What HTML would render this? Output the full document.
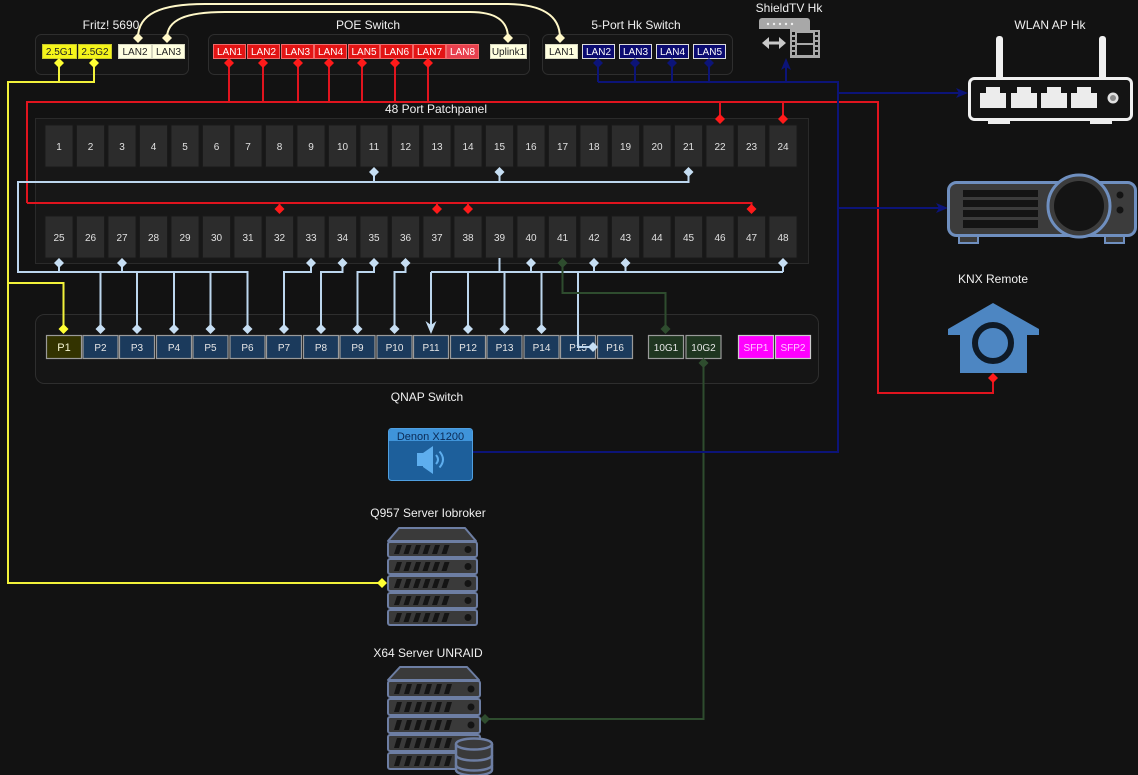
<!DOCTYPE html>
<html><head><meta charset="utf-8"><style>
html,body{margin:0;padding:0;background:#121212;}
svg{display:block;font-family:"Liberation Sans",Arial,sans-serif;}
</style></head><body>
<svg width="1138" height="775" viewBox="0 0 1138 775" xmlns="http://www.w3.org/2000/svg">
<defs>
<rect id="pp" width="28" height="42" fill="#2c2c2c" stroke="#1a1a1a" stroke-width="1"/>
<g id="srvu"><rect x="0" y="0" width="89" height="15" rx="2" fill="#3a3a3a" stroke="#6d7ea3" stroke-width="2"/><path d="M9 3h5l-3 9h-5z M18.5 3h5l-3 9h-5z M28 3h5l-3 9h-5z M37.5 3h5l-3 9h-5z M47 3h5l-3 9h-5z M56.5 3h5l-3 9h-5z" fill="#141414"/><circle cx="80" cy="7.5" r="3.5" fill="#141414"/></g>
<g id="srvx"><rect x="0" y="0" width="92" height="16" rx="2" fill="#3a3a3a" stroke="#6d7ea3" stroke-width="2"/><path d="M9 3h5l-3 10h-5z M19 3h5l-3 10h-5z M29 3h5l-3 10h-5z M39 3h5l-3 10h-5z M49 3h5l-3 10h-5z M59 3h5l-3 10h-5z" fill="#141414"/><circle cx="83" cy="8" r="3.5" fill="#141414"/></g>
</defs>
<rect width="1138" height="775" fill="#121212"/>

<!-- containers -->
<g fill="#151515" stroke="#2e2e2e" stroke-width="1">
<rect x="35.5" y="34.5" width="153" height="40" rx="6"/>
<rect x="208.5" y="34.5" width="321" height="40" rx="6"/>
<rect x="542.5" y="34.5" width="190" height="40" rx="6"/>
<rect x="35.5" y="314.5" width="783" height="69" rx="9"/>
</g>
<rect x="35.5" y="118.5" width="773" height="145" fill="#171717" stroke="#2a2a2a"/>

<!-- labels -->
<g fill="#f0f0f0" font-size="12" text-anchor="middle">
<text x="111" y="29">Fritz! 5690</text>
<text x="368" y="29">POE Switch</text>
<text x="636" y="29">5-Port Hk Switch</text>
<text x="789" y="12">ShieldTV Hk</text>
<text x="1050" y="29">WLAN AP Hk</text>
<text x="436" y="113">48 Port Patchpanel</text>
<text x="993" y="283">KNX Remote</text>
<text x="427" y="401">QNAP Switch</text>
<text x="428" y="517">Q957 Server Iobroker</text>
<text x="428" y="657">X64 Server UNRAID</text>
</g>

<!-- Fritz ports -->
<g stroke-width="1">
<rect x="42.5" y="44.5" width="34" height="14" fill="#f5f51a" stroke="#c9c92a"/>
<rect x="78.5" y="44.5" width="33" height="14" fill="#f5f51a" stroke="#c9c92a"/>
<rect x="118.5" y="44.5" width="33" height="14" fill="#ffffe0" stroke="#d8d8c0"/>
<rect x="152.5" y="44.5" width="32" height="14" fill="#ffffe0" stroke="#d8d8c0"/>
</g>
<g font-size="10" text-anchor="middle" fill="#222">
<text x="59.5" y="55">2.5G1</text>
<text x="95" y="55">2.5G2</text>
<text x="135" y="55">LAN2</text>
<text x="168.5" y="55">LAN3</text>
</g>

<!-- POE ports -->
<g fill="#e31414" stroke="#f06a6a" stroke-width="1">
<rect x="213.5" y="44.5" width="32" height="14"/>
<rect x="247.5" y="44.5" width="32" height="14"/>
<rect x="281.5" y="44.5" width="32" height="14"/>
<rect x="314.5" y="44.5" width="32" height="14"/>
<rect x="348.5" y="44.5" width="31" height="14"/>
<rect x="380.5" y="44.5" width="32" height="14"/>
<rect x="413.5" y="44.5" width="32" height="14"/>
<rect x="446.5" y="44.5" width="32" height="14" fill="#e8404e"/>
</g>
<rect x="490.5" y="44.5" width="36" height="14" fill="#ffffe0" stroke="#d8d8c0"/>
<g font-size="10" text-anchor="middle" fill="#fff">
<text x="229.5" y="55">LAN1</text>
<text x="263.5" y="55">LAN2</text>
<text x="297.5" y="55">LAN3</text>
<text x="330.5" y="55">LAN4</text>
<text x="364" y="55">LAN5</text>
<text x="396.5" y="55">LAN6</text>
<text x="429.5" y="55">LAN7</text>
<text x="462.5" y="55">LAN8</text>
<text x="508.5" y="55" fill="#222">Uplink1</text>
</g>

<!-- 5 port switch -->
<rect x="545.5" y="44.5" width="32" height="14" fill="#ffffe0" stroke="#d8d8c0"/>
<g fill="#0b0b70" stroke="#dddddd" stroke-width="1">
<rect x="582.5" y="44.5" width="32" height="14"/>
<rect x="619.5" y="44.5" width="32" height="14"/>
<rect x="656.5" y="44.5" width="32" height="14"/>
<rect x="693.5" y="44.5" width="32" height="14"/>
</g>
<g font-size="10" text-anchor="middle" fill="#fff">
<text x="561.5" y="55" fill="#222">LAN1</text>
<text x="598.5" y="55">LAN2</text>
<text x="635.5" y="55">LAN3</text>
<text x="672.5" y="55">LAN4</text>
<text x="709.5" y="55">LAN5</text>
</g>

<!-- Patch panel ports -->
<g>
<use href="#pp" x="45" y="125"/><use href="#pp" x="76.5" y="125"/><use href="#pp" x="108" y="125"/><use href="#pp" x="139.5" y="125"/><use href="#pp" x="171" y="125"/><use href="#pp" x="202.5" y="125"/><use href="#pp" x="234" y="125"/><use href="#pp" x="265.5" y="125"/><use href="#pp" x="297" y="125"/><use href="#pp" x="328.5" y="125"/><use href="#pp" x="360" y="125"/><use href="#pp" x="391.5" y="125"/><use href="#pp" x="423" y="125"/><use href="#pp" x="454" y="125"/><use href="#pp" x="485.5" y="125"/><use href="#pp" x="517" y="125"/><use href="#pp" x="548.5" y="125"/><use href="#pp" x="580" y="125"/><use href="#pp" x="611.5" y="125"/><use href="#pp" x="643" y="125"/><use href="#pp" x="674.5" y="125"/><use href="#pp" x="706" y="125"/><use href="#pp" x="737.5" y="125"/><use href="#pp" x="769" y="125"/>
<use href="#pp" x="45" y="216"/><use href="#pp" x="76.5" y="216"/><use href="#pp" x="108" y="216"/><use href="#pp" x="139.5" y="216"/><use href="#pp" x="171" y="216"/><use href="#pp" x="202.5" y="216"/><use href="#pp" x="234" y="216"/><use href="#pp" x="265.5" y="216"/><use href="#pp" x="297" y="216"/><use href="#pp" x="328.5" y="216"/><use href="#pp" x="360" y="216"/><use href="#pp" x="391.5" y="216"/><use href="#pp" x="423" y="216"/><use href="#pp" x="454" y="216"/><use href="#pp" x="485.5" y="216"/><use href="#pp" x="517" y="216"/><use href="#pp" x="548.5" y="216"/><use href="#pp" x="580" y="216"/><use href="#pp" x="611.5" y="216"/><use href="#pp" x="643" y="216"/><use href="#pp" x="674.5" y="216"/><use href="#pp" x="706" y="216"/><use href="#pp" x="737.5" y="216"/><use href="#pp" x="769" y="216"/>
</g>
<g font-size="10" text-anchor="middle" fill="#e0e0e0">
<text x="59" y="150">1</text><text x="90.5" y="150">2</text><text x="122" y="150">3</text><text x="153.5" y="150">4</text><text x="185" y="150">5</text><text x="216.5" y="150">6</text><text x="248" y="150">7</text><text x="279.5" y="150">8</text><text x="311" y="150">9</text><text x="342.5" y="150">10</text><text x="374" y="150">11</text><text x="405.5" y="150">12</text><text x="437" y="150">13</text><text x="468" y="150">14</text><text x="499.5" y="150">15</text><text x="531" y="150">16</text><text x="562.5" y="150">17</text><text x="594" y="150">18</text><text x="625.5" y="150">19</text><text x="657" y="150">20</text><text x="688.5" y="150">21</text><text x="720" y="150">22</text><text x="751.5" y="150">23</text><text x="783" y="150">24</text>
<text x="59" y="241">25</text><text x="90.5" y="241">26</text><text x="122" y="241">27</text><text x="153.5" y="241">28</text><text x="185" y="241">29</text><text x="216.5" y="241">30</text><text x="248" y="241">31</text><text x="279.5" y="241">32</text><text x="311" y="241">33</text><text x="342.5" y="241">34</text><text x="374" y="241">35</text><text x="405.5" y="241">36</text><text x="437" y="241">37</text><text x="468" y="241">38</text><text x="499.5" y="241">39</text><text x="531" y="241">40</text><text x="562.5" y="241">41</text><text x="594" y="241">42</text><text x="625.5" y="241">43</text><text x="657" y="241">44</text><text x="688.5" y="241">45</text><text x="720" y="241">46</text><text x="751.5" y="241">47</text><text x="783" y="241">48</text>
</g>

<!-- QNAP ports -->
<g stroke="#9a9a9a" stroke-width="1.2">
<rect x="46.5" y="335.5" width="35" height="23" fill="#333300"/>
<g fill="#1b3a5c">
<rect x="83" y="335.5" width="35" height="23"/><rect x="119.5" y="335.5" width="35" height="23"/><rect x="156.5" y="335.5" width="35" height="23"/><rect x="193" y="335.5" width="35" height="23"/><rect x="230" y="335.5" width="35" height="23"/><rect x="266.5" y="335.5" width="35" height="23"/><rect x="303.5" y="335.5" width="35" height="23"/><rect x="340" y="335.5" width="35" height="23"/><rect x="377" y="335.5" width="35" height="23"/><rect x="413.5" y="335.5" width="35" height="23"/><rect x="450.5" y="335.5" width="35" height="23"/><rect x="487" y="335.5" width="35" height="23"/><rect x="524" y="335.5" width="35" height="23"/><rect x="560.5" y="335.5" width="35" height="23"/><rect x="597.5" y="335.5" width="35" height="23"/>
</g>
<rect x="648.5" y="335.5" width="35" height="23" fill="#1f3620"/>
<rect x="686" y="335.5" width="35" height="23" fill="#1f3620"/>
<rect x="738.5" y="335.5" width="35" height="23" fill="#ff00ff" stroke="#cccccc"/>
<rect x="775.5" y="335.5" width="35" height="23" fill="#ff00ff" stroke="#cccccc"/>
</g>
<g font-size="10" text-anchor="middle" fill="#e6e6e6">
<text x="64" y="351" fill="#f4f4d0" font-size="11">P1</text>
<text x="100.5" y="351">P2</text><text x="137" y="351">P3</text><text x="174" y="351">P4</text><text x="210.5" y="351">P5</text><text x="247.5" y="351">P6</text><text x="284" y="351">P7</text><text x="321" y="351">P8</text><text x="357.5" y="351">P9</text><text x="394.5" y="351">P10</text><text x="431" y="351">P11</text><text x="468" y="351">P12</text><text x="504.5" y="351">P13</text><text x="541.5" y="351">P14</text><text x="578" y="351">P15</text><text x="615" y="351">P16</text>
<text x="666" y="351">10G1</text><text x="703.5" y="351">10G2</text>
<text x="756" y="351" fill="#ffc8ff">SFP1</text><text x="793" y="351" fill="#ffc8ff">SFP2</text>
</g>

<!-- cream curves -->
<g fill="none" stroke="#fff8c8" stroke-width="2">
<path d="M138 38C138 14 160 4 205 4H505C540 4 560 14 560 38"/>
<path d="M167 38C167 20 185 12 225 12H470C495 12 508 20 508 38"/>
</g>
<g fill="#fff8c8">
<path d="M138 33l5 5-5 5-5-5z"/><path d="M167 33l5 5-5 5-5-5z"/><path d="M508 33l5 5-5 5-5-5z"/><path d="M560 33l5 5-5 5-5-5z"/>
</g>

<!-- red -->
<g fill="none" stroke="#e0141e" stroke-width="2">
<path d="M229 63V102 M263 63V102 M298 63V102 M329 63V102 M362 63V102 M395 63V102 M428 63V102 M27 203V102H878V393H993V378 M720 102V119 M783 102V119 M27 203H751.5V209 M279.5 203V209 M437 203V209 M468 203V209"/>
</g>
<g fill="#ff1a1a">
<path d="M229 58l5 5-5 5-5-5z"/><path d="M263 58l5 5-5 5-5-5z"/><path d="M298 58l5 5-5 5-5-5z"/><path d="M329 58l5 5-5 5-5-5z"/><path d="M362 58l5 5-5 5-5-5z"/><path d="M395 58l5 5-5 5-5-5z"/><path d="M428 58l5 5-5 5-5-5z"/>
<path d="M720 114l5 5-5 5-5-5z"/><path d="M783 114l5 5-5 5-5-5z"/>
<path d="M279.5 204l5 5-5 5-5-5z"/><path d="M437 204l5 5-5 5-5-5z"/><path d="M468 204l5 5-5 5-5-5z"/><path d="M751.5 204l5 5-5 5-5-5z"/>
<path d="M993 373l5 5-5 5-5-5z"/>
</g>

<!-- yellow -->
<g fill="none" stroke="#f2f23a" stroke-width="2">
<path d="M59 63V82 M94 63V82H8V583H382 M8 283H63.5V329"/>
</g>
<g fill="#ffff33">
<path d="M59 58l5 5-5 5-5-5z"/><path d="M94 58l5 5-5 5-5-5z"/><path d="M63.5 324l5 5-5 5-5-5z"/><path d="M382 578l5 5-5 5-5-5z"/>
</g>

<!-- light blue -->
<g fill="none" stroke="#bcd6ee" stroke-width="2">
<path d="M374 172V182 M499.5 172V182 M688.5 172V182H18V272H247.5V329 M59 263V272 M122 263V272 M100.5 272V329 M137 272V329 M174 272V329 M210.5 272V329"/>
<path d="M311 263V272H284V329 M342.5 263V272H321V329 M374 263V272H357.5V329 M405.5 263V272H394.5V329"/>
<path d="M431 272H783 M431 272V326 M468 272V329 M504.5 272V329 M541.5 272V329 M578 272V347H593 M499.5 258V272 M531 263V272 M594 263V272 M625.5 263V272 M783 263V272"/>
</g>
<g fill="#c6def3">
<path d="M374 167l5 5-5 5-5-5z"/><path d="M499.5 167l5 5-5 5-5-5z"/><path d="M688.5 167l5 5-5 5-5-5z"/>
<path d="M59 258l5 5-5 5-5-5z"/><path d="M122 258l5 5-5 5-5-5z"/><path d="M311 258l5 5-5 5-5-5z"/><path d="M342.5 258l5 5-5 5-5-5z"/><path d="M374 258l5 5-5 5-5-5z"/><path d="M405.5 258l5 5-5 5-5-5z"/><path d="M531 258l5 5-5 5-5-5z"/><path d="M594 258l5 5-5 5-5-5z"/><path d="M625.5 258l5 5-5 5-5-5z"/><path d="M783 258l5 5-5 5-5-5z"/>
<path d="M100.5 324l5 5-5 5-5-5z"/><path d="M137 324l5 5-5 5-5-5z"/><path d="M174 324l5 5-5 5-5-5z"/><path d="M210.5 324l5 5-5 5-5-5z"/><path d="M247.5 324l5 5-5 5-5-5z"/><path d="M284 324l5 5-5 5-5-5z"/><path d="M321 324l5 5-5 5-5-5z"/><path d="M357.5 324l5 5-5 5-5-5z"/><path d="M394.5 324l5 5-5 5-5-5z"/><path d="M468 324l5 5-5 5-5-5z"/><path d="M504.5 324l5 5-5 5-5-5z"/><path d="M541.5 324l5 5-5 5-5-5z"/>
<path d="M593 342l5 5-5 5-5-5z"/>
<path d="M431 334l-5.5-13 5.5 4 5.5-4z"/>
</g>

<!-- green -->
<g fill="none" stroke="#2e4c2e" stroke-width="2">
<path d="M562.5 263V293H665.5V329 M703.5 363V719H485"/>
</g>
<g fill="#2e4c2e">
<path d="M562.5 258l5 5-5 5-5-5z"/><path d="M665.5 324l5 5-5 5-5-5z"/><path d="M703.5 358l5 5-5 5-5-5z"/><path d="M485 714l5 5-5 5-5-5z"/>
</g>

<!-- navy -->
<g fill="none" stroke="#0c1478" stroke-width="2">
<path d="M598 63V82 M635 63V82 M672 63V82 M709 63V82 M598 82H838V452H466 M786 82V64 M838 93H960 M838 208H940"/>
</g>
<g fill="#0c1478">
<path d="M598 58l5 5-5 5-5-5z"/><path d="M635 58l5 5-5 5-5-5z"/><path d="M672 58l5 5-5 5-5-5z"/><path d="M709 58l5 5-5 5-5-5z"/>
<path d="M466 447l5 5-5 5-5-5z"/>
<path d="M786 58l5 12-5-3-5 3z"/>
<path d="M968 93l-12-5 3 5-3 5z"/>
<path d="M948 208l-12-5 3 5-3 5z"/>
</g>

<!-- ShieldTV icon -->
<g>
<path d="M762 18h45a3 3 0 0 1 3 3v9h-20v-1h-31v-8a3 3 0 0 1 3-3z" fill="#a8a8a8"/>
<g fill="#eeeeee"><circle cx="768" cy="24" r="1.2"/><circle cx="774" cy="24" r="1.2"/><circle cx="780" cy="24" r="1.2"/><circle cx="786" cy="24" r="1.2"/><circle cx="792" cy="24" r="1.2"/></g>
<path d="M767 43h14" stroke="#c8c8c8" stroke-width="3" fill="none"/>
<path d="M762 43l7-6v12z M786 43l-7-6v12z" fill="#c8c8c8"/>
<rect x="790" y="30" width="30" height="28" fill="#a8a8a8"/>
<g fill="#121212">
<rect x="797" y="33" width="16" height="10"/><rect x="797" y="45" width="16" height="10"/>
<rect x="792" y="32" width="3" height="3"/><rect x="792" y="37" width="3" height="3"/><rect x="792" y="42" width="3" height="3"/><rect x="792" y="47" width="3" height="3"/><rect x="792" y="52" width="3" height="3"/>
<rect x="815" y="32" width="3" height="3"/><rect x="815" y="37" width="3" height="3"/><rect x="815" y="42" width="3" height="3"/><rect x="815" y="47" width="3" height="3"/><rect x="815" y="52" width="3" height="3"/>
</g>
</g>

<!-- WLAN router -->
<g>
<rect x="996" y="36" width="7" height="44" rx="3" fill="#f0f0f0"/>
<rect x="1099" y="36" width="7" height="44" rx="3" fill="#f0f0f0"/>
<rect x="969.5" y="78.5" width="162" height="41" rx="5" fill="#141414" stroke="#f0f0f0" stroke-width="3"/>
<g fill="#ececec">
<path d="M980 93h6v-6h14v6h6v15h-26z"/><path d="M1011 93h6v-6h14v6h6v15h-26z"/><path d="M1041 93h6v-6h14v6h6v15h-26z"/><path d="M1071 93h6v-6h14v6h6v15h-26z"/>
<rect x="988" y="120" width="22" height="4"/><rect x="1090" y="120" width="22" height="4"/>
</g>
<circle cx="1113" cy="98" r="5.5" fill="#e0e0e0"/><circle cx="1113" cy="98" r="3" fill="#8a8a8a"/>
</g>

<!-- Projector -->
<g>
<rect x="959" y="234" width="19" height="9" fill="#3c3c3c" stroke="#6f8fbf" stroke-width="2"/>
<rect x="1105" y="234" width="19" height="9" fill="#3c3c3c" stroke="#6f8fbf" stroke-width="2"/>
<rect x="948.5" y="182.5" width="187" height="53" rx="8" fill="#3c3c3c" stroke="#6f8fbf" stroke-width="3"/>
<g fill="#141414"><rect x="963" y="190" width="75" height="7"/><rect x="963" y="200" width="75" height="7"/><rect x="963" y="210" width="75" height="7"/><rect x="963" y="220" width="75" height="8"/></g>
<circle cx="1079" cy="206" r="31" fill="#3c3c3c" stroke="#6f8fbf" stroke-width="3"/>
<circle cx="1079" cy="206" r="25" fill="#141414"/>
<circle cx="1120" cy="195" r="3.5" fill="#141414"/><circle cx="1120" cy="210" r="3.5" fill="#141414"/>
</g>

<!-- KNX -->
<g>
<path d="M993 303L1039 329V335H1027V373H960V335H948V329Z" fill="#4d86c2" stroke-linejoin="round"/>
<circle cx="993" cy="343" r="18" fill="#4d86c2" stroke="#0f1a26" stroke-width="6"/>
</g>

<!-- Denon -->
<g>
<rect x="388.5" y="428.5" width="84" height="52" rx="3" fill="#1d5f9b" stroke="#4f9fe0"/>
<path d="M391.5 429h78a2.5 2.5 0 0 1 2.5 2.5v9.5h-83v-9.5a2.5 2.5 0 0 1 2.5-2.5z" fill="#3f94da"/>
<text x="430.5" y="440" font-size="11" text-anchor="middle" fill="#0b2a55">Denon X1200</text>
<rect x="417" y="453" width="6" height="13" fill="#5eaeee"/>
<path d="M423 453l10-7v28l-10-7z" fill="#5eaeee"/>
<path d="M436 455q4 4.5 0 9 M439.5 451.5q7 8 0 16" fill="none" stroke="#5eaeee" stroke-width="2"/>
</g>

<!-- Q957 server -->
<g>
<path d="M388 541L399 528H465L476 541Z" fill="#3a3a3a" stroke="#6d7ea3" stroke-width="2" stroke-linejoin="round"/>
<use href="#srvu" x="388" y="542"/>
<use href="#srvu" x="388" y="559"/>
<use href="#srvu" x="388" y="576"/>
<use href="#srvu" x="388" y="593"/>
<use href="#srvu" x="388" y="610"/>
</g>

<!-- X64 server -->
<g>
<path d="M388 680L400 667H467L479 680Z" fill="#3a3a3a" stroke="#6d7ea3" stroke-width="2" stroke-linejoin="round"/>
<use href="#srvx" x="388" y="681"/>
<use href="#srvx" x="388" y="699"/>
<use href="#srvx" x="388" y="717"/>
<use href="#srvx" x="388" y="735"/>
<use href="#srvx" x="388" y="753"/>
<g fill="#3a3a3a" stroke="#6d7ea3" stroke-width="2.5">
<path d="M456 744v26a18 5.5 0 0 0 36 0v-26"/>
<ellipse cx="474" cy="744" rx="18" ry="5.5"/>
<path d="M456 755a18 5.5 0 0 0 36 0 M456 765a18 5.5 0 0 0 36 0" fill="none"/>
</g>
</g>
</svg>
</body></html>
